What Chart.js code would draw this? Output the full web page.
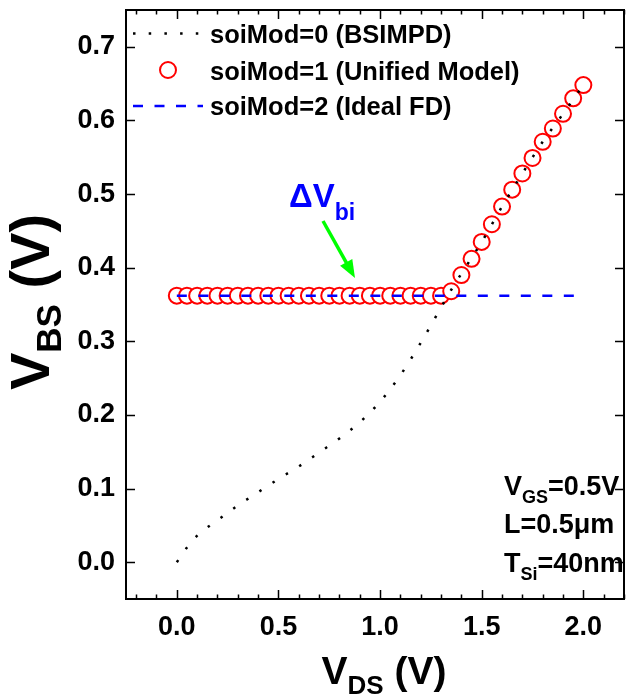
<!DOCTYPE html>
<html>
<head>
<meta charset="utf-8">
<script src="https://cdn.jsdelivr.net/npm/chart.js@4.4.0/dist/chart.umd.min.js"></script>
<style>
  html, body { margin: 0; padding: 0; background: #fff; }
  #wrap { width: 634px; height: 700px; }
</style>
</head>
<body>
<div id="wrap"><canvas id="chart" width="634" height="700"></canvas></div>
<script>
// soiMod=1 (Unified Model) symbols
const vdsUnified = [0.00, 0.05, 0.10, 0.15, 0.20, 0.25, 0.30, 0.35, 0.40, 0.45,
                    0.50, 0.55, 0.60, 0.65, 0.70, 0.75, 0.80, 0.85, 0.90, 0.95,
                    1.00, 1.05, 1.10, 1.15, 1.20, 1.25, 1.30, 1.35, 1.40, 1.45,
                    1.50, 1.55, 1.60, 1.65, 1.70, 1.75, 1.80, 1.85, 1.90, 1.95, 2.00];
const vbsUnified = [0.362, 0.362, 0.362, 0.362, 0.362, 0.362, 0.362, 0.362, 0.362, 0.362,
                    0.362, 0.362, 0.362, 0.362, 0.362, 0.362, 0.362, 0.362, 0.362, 0.362,
                    0.362, 0.362, 0.362, 0.362, 0.362, 0.362, 0.362, 0.368, 0.390, 0.412,
                    0.435, 0.459, 0.483, 0.506, 0.528, 0.549, 0.571, 0.589, 0.609, 0.630, 0.648];

// soiMod=0 (BSIMPD) dotted curve
const vdsBsimpd = [0.00, 0.05, 0.10, 0.20, 0.30, 0.40, 0.50, 0.60, 0.70, 0.80, 0.90,
                   1.00, 1.10, 1.20, 1.30, 1.35, 1.40, 1.50, 1.60, 1.70, 1.80, 1.90, 2.00];
const vbsBsimpd = [0.000, 0.020, 0.036, 0.057, 0.077, 0.095, 0.113, 0.130, 0.149, 0.168, 0.190,
                   0.218, 0.254, 0.298, 0.346, 0.370, 0.392, 0.435, 0.483, 0.528, 0.571, 0.609, 0.648];

// soiMod=2 (Ideal FD) dashed line
const vdsIdeal = [0.0, 2.0];
const vbsIdeal = [0.362, 0.362];

const xTicks = [0.0, 0.5, 1.0, 1.5, 2.0];
const yTicks = [0.0, 0.1, 0.2, 0.3, 0.4, 0.5, 0.6, 0.7];
const xMinorStep = 0.1;

const FONT = "'Liberation Sans', Arial, sans-serif";

function pts(xs, ys) {
    return xs.map((x, i) => ({ x: x, y: ys[i] }));
}

// draw text runs (with subscripts) starting at x, baseline y
function drawRuns(ctx, runs, x, y, align) {
    let total = 0;
    runs.forEach(r => {
        ctx.font = 'bold ' + r.size + 'px ' + FONT;
        r.w = ctx.measureText(r.t).width;
        total += r.w;
    });
    let cx = align === 'center' ? x - total / 2 : x;
    ctx.textAlign = 'left';
    ctx.textBaseline = 'alphabetic';
    runs.forEach(r => {
        ctx.font = 'bold ' + r.size + 'px ' + FONT;
        ctx.fillText(r.t, cx, y + (r.dy || 0));
        cx += r.w;
    });
}

// keep chart.js from reserving room for half tick labels
function noPad(s) {
    s.paddingTop = 0; s.paddingBottom = 0; s.paddingLeft = 0; s.paddingRight = 0;
}

const decorations = {
    id: 'decorations',
    afterDraw(chart) {
        const ctx = chart.ctx;
        const a = chart.chartArea;
        const xs = chart.scales.x;
        const ys = chart.scales.y;
        ctx.save();

        // frame
        ctx.strokeStyle = '#000';
        ctx.lineWidth = 2;
        ctx.strokeRect(a.left, a.top, a.right - a.left, a.bottom - a.top);

        // inward ticks on all sides
        ctx.lineWidth = 1.5;
        ctx.beginPath();
        for (let v = -0.2; v <= 2.2001; v += xMinorStep) {
            const px = Math.round(xs.getPixelForValue(v)) + 0.5;
            const major = xTicks.some(t => Math.abs(t - v) < 1e-6);
            const len = major ? 9 : 4.5;
            ctx.moveTo(px, a.bottom); ctx.lineTo(px, a.bottom - len);
            ctx.moveTo(px, a.top); ctx.lineTo(px, a.top + len);
        }
        yTicks.forEach(v => {
            const py = Math.round(ys.getPixelForValue(v)) + 0.5;
            ctx.moveTo(a.left, py); ctx.lineTo(a.left + 9, py);
            ctx.moveTo(a.right, py); ctx.lineTo(a.right - 9, py);
        });
        ctx.stroke();

        // legend
        const lx0 = a.left + 7, lx1 = a.left + 77, tx = a.left + 84;
        ctx.strokeStyle = '#000';
        ctx.lineWidth = 2.5;
        ctx.setLineDash([2.5, 13.2]);
        ctx.beginPath(); ctx.moveTo(lx0, 33.5); ctx.lineTo(lx1, 33.5); ctx.stroke();
        ctx.strokeStyle = '#0000ff';
        ctx.setLineDash([10, 11.5]);
        ctx.beginPath(); ctx.moveTo(lx0, 106); ctx.lineTo(lx1, 106); ctx.stroke();
        ctx.setLineDash([]);
        ctx.strokeStyle = '#ff0000';
        ctx.lineWidth = 2;
        ctx.fillStyle = '#fff';
        ctx.beginPath(); ctx.arc((lx0 + lx1) / 2, 70, 8, 0, Math.PI * 2); ctx.fill(); ctx.stroke();

        ctx.fillStyle = '#000';
        drawRuns(ctx, [{ t: 'soiMod=0 (BSIMPD)', size: 25.5 }], tx, 43);
        drawRuns(ctx, [{ t: 'soiMod=1 (Unified Model)', size: 25.5 }], tx, 80);
        drawRuns(ctx, [{ t: 'soiMod=2 (Ideal FD)', size: 25.5 }], tx, 115);

        // conditions text
        drawRuns(ctx, [{ t: 'V', size: 27 }, { t: 'GS', size: 18, dy: 8 }, { t: '=0.5V', size: 27 }], 504, 495);
        drawRuns(ctx, [{ t: 'L=0.5\u03bcm', size: 27 }], 504, 533);
        drawRuns(ctx, [{ t: 'T', size: 27 }, { t: 'Si', size: 18, dy: 8 }, { t: '=40nm', size: 27 }], 504, 572);

        // delta Vbi annotation
        ctx.fillStyle = '#0000ff';
        drawRuns(ctx, [{ t: '\u0394V', size: 33 }, { t: 'bi', size: 23, dy: 13 }], 289, 207);

        // green arrow
        const ax0 = 323, ay0 = 221, ax1 = 355, ay1 = 278;
        const ang = Math.atan2(ay1 - ay0, ax1 - ax0);
        ctx.strokeStyle = '#00ff00';
        ctx.fillStyle = '#00ff00';
        ctx.lineWidth = 3.5;
        ctx.beginPath();
        ctx.moveTo(ax0, ay0);
        ctx.lineTo(ax1 - 14 * Math.cos(ang), ay1 - 14 * Math.sin(ang));
        ctx.stroke();
        ctx.beginPath();
        ctx.moveTo(ax1, ay1);
        ctx.lineTo(ax1 - 18 * Math.cos(ang) + 7 * Math.sin(ang), ay1 - 18 * Math.sin(ang) - 7 * Math.cos(ang));
        ctx.lineTo(ax1 - 18 * Math.cos(ang) - 7 * Math.sin(ang), ay1 - 18 * Math.sin(ang) + 7 * Math.cos(ang));
        ctx.closePath();
        ctx.fill();

        // axis titles
        ctx.fillStyle = '#000';
        drawRuns(ctx, [{ t: 'V', size: 39 }, { t: 'DS', size: 26, dy: 10 }, { t: ' (V)', size: 39 }], 384, 684, 'center');
        ctx.translate(49, 302);
        ctx.rotate(-Math.PI / 2);
        drawRuns(ctx, [{ t: 'V', size: 56 }, { t: 'BS', size: 35, dy: 12 }, { t: ' (V)', size: 56 }], 0, 0, 'center');

        ctx.restore();
    }
};

new Chart(document.getElementById('chart').getContext('2d'), {
    type: 'scatter',
    data: {
        datasets: [
            {
                label: 'soiMod=0 (BSIMPD)',
                data: pts(vdsBsimpd, vbsBsimpd),
                showLine: true,
                borderColor: '#000',
                borderWidth: 2.5,
                borderDash: [2.5, 13.2],
                cubicInterpolationMode: 'monotone',
                pointRadius: 0,
                order: 1
            },
            {
                label: 'soiMod=1 (Unified Model)',
                data: pts(vdsUnified, vbsUnified),
                showLine: false,
                pointStyle: 'circle',
                pointRadius: 8,
                pointBorderWidth: 2,
                pointBorderColor: '#ff0000',
                pointBackgroundColor: '#ffffff',
                order: 3
            },
            {
                label: 'soiMod=2 (Ideal FD)',
                data: pts(vdsIdeal, vbsIdeal),
                showLine: true,
                borderColor: '#0000ff',
                borderWidth: 2.5,
                borderDash: [10, 11.5],
                pointRadius: 0,
                order: 2
            }
        ]
    },
    options: {
        responsive: false,
        animation: false,
        devicePixelRatio: 1,
        layout: { padding: { top: 9, right: 1, left: 0, bottom: 0 } },
        plugins: {
            legend: { display: false },
            tooltip: { enabled: false }
        },
        scales: {
            x: {
                type: 'linear',
                min: -0.25,
                max: 2.2,
                grid: { display: false, drawTicks: false },
                border: { display: false },
                afterBuildTicks: s => { s.ticks = xTicks.map(v => ({ value: v })); },
                afterFit: s => { s.height = 101; noPad(s); },
                ticks: {
                    padding: 12,
                    maxRotation: 0,
                    autoSkip: false,
                    color: '#000',
                    font: { family: FONT, size: 27, weight: 'bold' },
                    callback: v => v.toFixed(1)
                }
            },
            y: {
                type: 'linear',
                min: -0.05,
                max: 0.75,
                grid: { display: false, drawTicks: false },
                border: { display: false },
                afterBuildTicks: s => { s.ticks = yTicks.map(v => ({ value: v })); },
                afterFit: s => { s.width = 126; noPad(s); },
                ticks: {
                    padding: 11,
                    autoSkip: false,
                    color: '#000',
                    font: { family: FONT, size: 27, weight: 'bold' },
                    callback: v => v.toFixed(1)
                }
            }
        }
    },
    plugins: [decorations]
});
</script>
</body>
</html>
